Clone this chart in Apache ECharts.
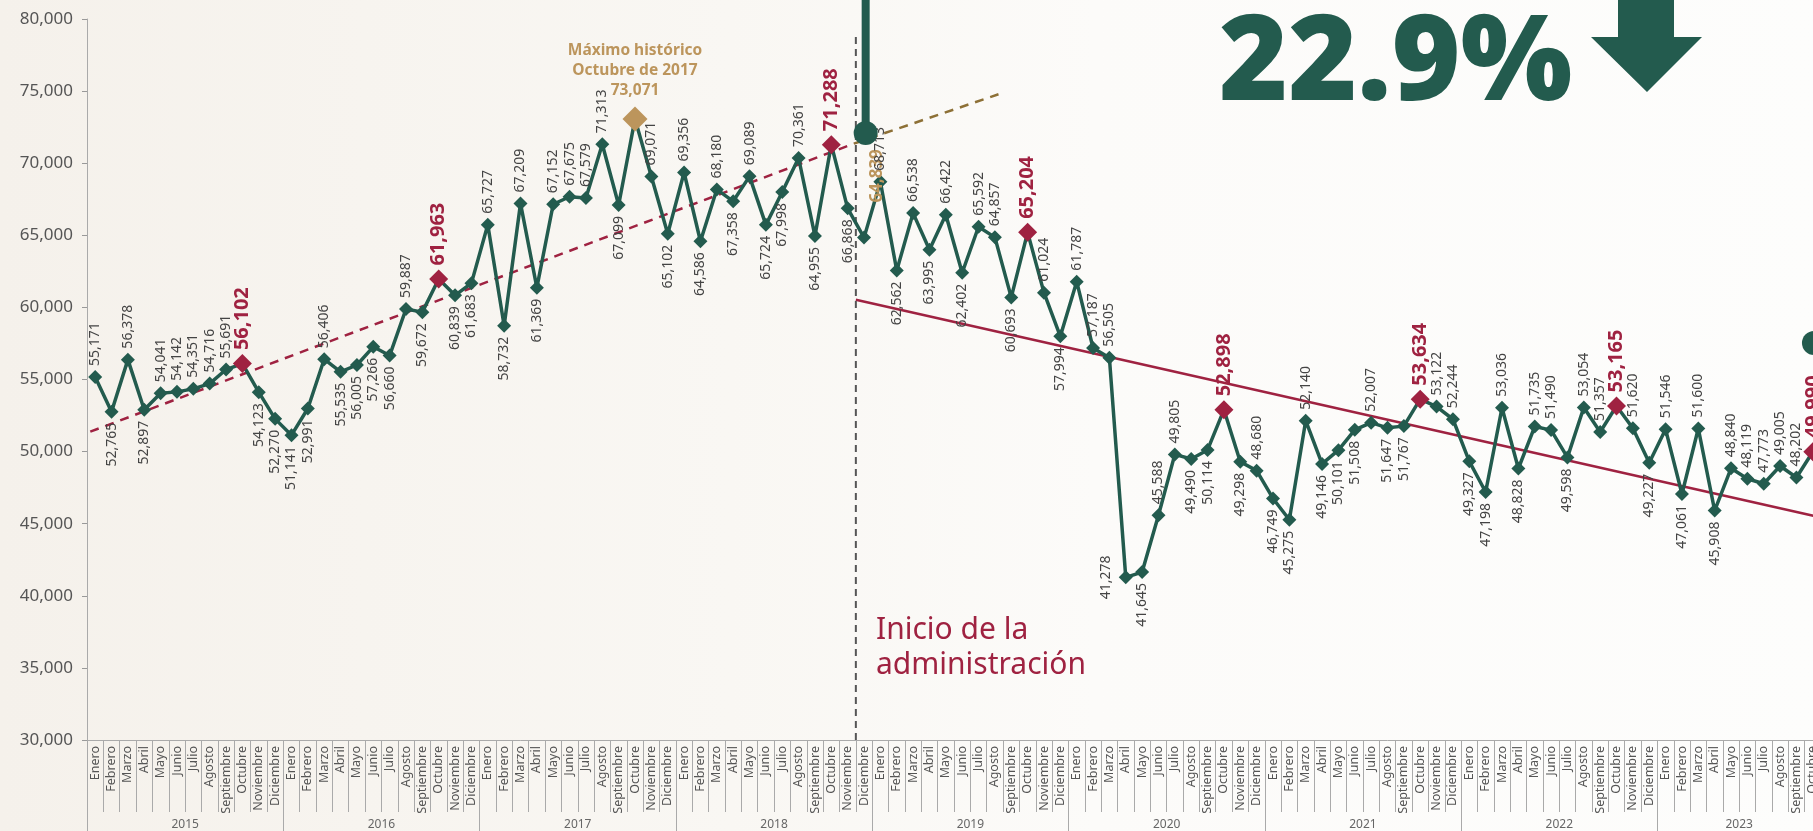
<!DOCTYPE html>
<html>
<head>
<meta charset="utf-8">
<script src="https://cdn.jsdelivr.net/npm/echarts@6/dist/echarts.min.js"></script>
<style>
html,body{margin:0;padding:0;background:#fbfaf8;overflow:hidden;width:1813px;height:831px;}
#chart{width:1824px;height:831px;}
</style>
</head>
<body>
<div id="chart"></div>
<script>
// ---------- DATA ----------
const monthNames = ['Enero','Febrero','Marzo','Abril','Mayo','Junio','Julio','Agosto','Septiembre','Octubre','Noviembre','Diciembre'];
const years = ['2015','2016','2017','2018','2019','2020','2021','2022','2023'];
const monthsInYear = [12,12,12,12,12,12,12,12,10];

const v2015 = [55171,52765,56378,52897,54041,54142,54351,54716,55691,56102,54123,52270];
const v2016 = [51141,52991,56406,55535,56005,57266,56660,59887,59672,61963,60839,61683];
const v2017 = [65727,58732,67209,61369,67152,67675,67579,71313,67099,73071,69071,65102];
const v2018 = [69356,64586,68180,67358,69089,65724,67998,70361,64955,71288,66868,64839];
const v2019 = [68713,62562,66538,63995,66422,62402,65592,64857,60693,65204,61024,57994];
const v2020 = [61787,57187,56505,41278,41645,45588,49805,49490,50114,52898,49298,48680];
const v2021 = [46749,45275,52140,49146,50101,51508,52007,51647,51767,53634,53122,52244];
const v2022 = [49327,47198,53036,48828,51735,51490,49598,53054,51357,53165,51620,49227];
const v2023 = [51546,47061,51600,45908,48840,48119,47773,49005,48202,49990];

// label side per point: T = above, B = below, L = left
const side2015 = 'TBTBTTTTTTBB';
const side2016 = 'BBTBBBBTBTBB';
const side2017 = 'TBTBTTTTBTTB';
const side2018 = 'TBTBTBBTBTBT';
const side2019 = 'TBTBTBTTBTTB';
const side2020 = 'TTTLBTTBBTBT';
const side2021 = 'BBTBBBTBBTTT';
const side2022 = 'BBTBTTBTTTTB';
const side2023 = 'TBTBTTTTTT';

const highlightRed = [9,21,45,57,69,81,93,105];   // Octubres
const maxIndex = 33;                              // Octubre 2017
const adminStartLabelIndex = 47;                  // Diciembre 2018

// trend lines (x in month units from Jan 2015, y in values)
const trendBefore = [[0.2,51380],[46.88,71359]];
const trendExtension = [[46.88,71359],[55.72,74778]];
const trendAfter = [[47,60527],[106,45430]];
const inicioLine = [[47,30000],[47,79100]];
const pinLeftLine = [[47.6,72094],[47.6,81500]];
const pinPoints = [[47.6,72094],[105.57,57531]];

const yMin = 30000, yMax = 80000, yStep = 5000;

// ---------- BUILD ----------
const values = [].concat(v2015,v2016,v2017,v2018,v2019,v2020,v2021,v2022,v2023);
const sides = (side2015+side2016+side2017+side2018+side2019+side2020+side2021+side2022+side2023).split('');
const categories = [];
const yearCenter = {};
let acc = 0;
years.forEach((y,i)=>{
  for(let m=0;m<monthsInYear[i];m++) categories.push(monthNames[m]);
  yearCenter[acc + monthsInYear[i]/2] = y;
  acc += monthsInYear[i];
});
const N = categories.length;

const GREEN = '#235B4E', RED = '#9F2241', GOLD = '#BC955C';
const FONT = 'Noto Sans';
const fmt = v => v.toLocaleString('en-US');

function labelFor(i){
  const s = sides[i];
  const base = {show:true, rotate:90, fontFamily:FONT, fontSize:14, color:'#444', formatter: p=>fmt(p.value)};
  if(s==='T') Object.assign(base,{position:'top', align:'left', verticalAlign:'middle', distance:4});
  else if(s==='B') Object.assign(base,{position:'bottom', align:'right', verticalAlign:'middle', distance:4});
  else Object.assign(base,{position:'left', align:'center', verticalAlign:'bottom', distance:6});
  return base;
}

const seriesData = values.map((v,i)=>{
  const d = {value:v, label:labelFor(i)};
  if(highlightRed.includes(i)){
    d.symbolSize = 19;
    d.itemStyle = {color:RED};
    d.label = Object.assign(labelFor(i), {color:RED, fontSize:20, fontWeight:'bold'});
  }
  if(i===maxIndex){
    d.symbolSize = 25;
    d.itemStyle = {color:GOLD};
    d.label = {show:true, position:'top', distance:6, rotate:0, align:'center', verticalAlign:'bottom',
      color:GOLD, fontFamily:FONT, fontWeight:'bold', fontSize:15.5, lineHeight:20,
      formatter: p=>'Máximo histórico\nOctubre de 2017\n'+fmt(p.value)};
  }
  if(i===adminStartLabelIndex){
    d.label = Object.assign(labelFor(i), {color:GOLD, fontSize:17, fontWeight:'bold', distance:7, offset:[21,13]});
  }
  return d;
});

const chart = echarts.init(document.getElementById('chart'), null, {renderer:'canvas'});
chart.setOption({
  backgroundColor:{type:'linear', x:0, y:0, x2:1, y2:0, colorStops:[
    {offset:0, color:'#f5f1eb'}, {offset:0.4, color:'#f9f7f3'}, {offset:0.6, color:'#fcfbf9'}, {offset:1, color:'#fdfdfc'}]},
  animation:false,
  grid:{left:87, right:0, top:19, bottom:91, containLabel:false},
  xAxis:[
    {type:'category', data:categories, boundaryGap:true,
     axisLine:{show:true, lineStyle:{color:'#aaa', width:1}},
     axisTick:{show:true, interval:0, length:72, lineStyle:{color:'#aaa'}},
     axisLabel:{interval:0, rotate:90, fontFamily:FONT, fontSize:12.5, color:'#555', margin:6},
     splitLine:{show:false}},
    {type:'value', min:0, max:N, interval:1, position:'bottom',
     axisLine:{show:false}, axisTick:{show:false}, splitLine:{show:false},
     axisLabel:{show:true, margin:79, fontFamily:FONT, fontSize:12, color:'#666',
       formatter: v => yearCenter[v] || ''}},
    {type:'value', min:0, max:N, interval:12, position:'bottom',
     axisLine:{show:false}, axisLabel:{show:false}, splitLine:{show:false},
     axisTick:{show:true, length:95, lineStyle:{color:'#aaa'}}}
  ],
  yAxis:{type:'value', min:yMin, max:yMax, interval:yStep,
    axisLine:{show:true, lineStyle:{color:'#aaa'}},
    axisTick:{show:true, length:5, lineStyle:{color:'#999'}},
    axisLabel:{fontFamily:FONT, fontSize:17, color:'#555', margin:14, formatter:v=>fmt(v)},
    splitLine:{show:false}},
  series:[
    {type:'line', xAxisIndex:1, data:trendBefore, symbol:'none', z:1,
     lineStyle:{color:RED, width:2.5, type:[9,7]}},
    {type:'line', xAxisIndex:1, data:trendExtension, symbol:'none', z:1,
     lineStyle:{color:'#8d7036', width:2.5, type:[9,7]}},
    {type:'line', xAxisIndex:1, data:trendAfter, symbol:'none', z:1,
     lineStyle:{color:RED, width:2.5}},
    {type:'line', xAxisIndex:1, data:inicioLine, symbol:'none', z:1,
     lineStyle:{color:'#555', width:2, type:[7,5]}},
    {type:'line', data:seriesData, symbol:'diamond', symbolSize:14, z:3,
     itemStyle:{color:GREEN}, lineStyle:{color:GREEN, width:3.5}},
    {type:'line', xAxisIndex:1, data:pinLeftLine, symbol:'none', clip:false, z:4,
     lineStyle:{color:GREEN, width:8}},
    {type:'scatter', xAxisIndex:1, data:pinPoints, symbol:'circle', symbolSize:24, clip:false, z:5,
     itemStyle:{color:GREEN, opacity:1}}
  ],
  graphic:[
    {type:'text', left:1219, top:7, style:{text:'22.9%', fill:GREEN, font:'900 118px "Noto Sans", sans-serif'}},
    {type:'polygon', shape:{points:[[1618,0],[1674,0],[1674,37],[1702,37],[1647,92],[1591,37],[1618,37]]}, style:{fill:GREEN}},
    {type:'text', left:876, top:613, style:{text:'Inicio de la\nadministración', fill:RED, font:'30px "Noto Sans", sans-serif', lineHeight:35}}
  ]
});
</script>
</body>
</html>
